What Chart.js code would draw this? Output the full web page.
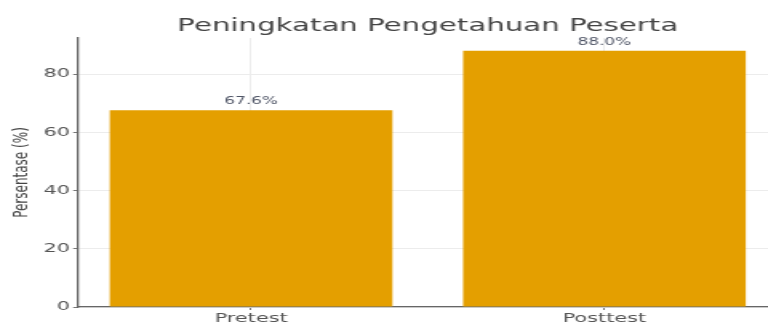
<!DOCTYPE html>
<html>
<head>
<meta charset="utf-8">
<script src="https://cdn.jsdelivr.net/npm/chart.js@4"></script>
<style>
  html, body { margin: 0; padding: 0; background: #fff; overflow: hidden; width: 768px; height: 325px; }
  #wrap { width: 486px; height: 325px; transform: scale(1.6, 1); transform-origin: 0 0; }
</style>
</head>
<body>
<div id="wrap"><canvas id="grafico"></canvas></div>
<script>
// datos del grafico
const categorias = ['Pretest', 'Posttest'];
const persentase = [67.6, 88.0];
const ticksY = [0, 20, 40, 60, 80];
const titulo = 'Peningkatan Pengetahuan Peserta';

const colorBarra = '#E49F00';
const colorTexto = '#555555';

// titulo centrado sobre el area del grafico y etiquetas encima de las barras
const etiquetas = {
    id: 'etiquetas',
    afterDatasetsDraw(chart) {
        const ctx = chart.ctx;
        const area = chart.chartArea;
        const meta = chart.getDatasetMeta(0);
        ctx.save();
        ctx.font = '18.3px "DejaVu Sans"';
        ctx.fillStyle = '#444444';
        ctx.textAlign = 'center';
        ctx.textBaseline = 'middle';
        ctx.fillText(titulo, (area.left + area.right) / 2, 26.5);
        ctx.font = '10.5px "DejaVu Sans"';
        ctx.fillStyle = '#4f5566';
        meta.data.forEach((barra, i) => {
            ctx.fillText(persentase[i].toFixed(1) + '%', barra.x, barra.y - 9);
        });
        ctx.restore();
    }
};

let canvasG = document.getElementById('grafico').getContext('2d');
let datos = {
    datasets: [{
        label: 'Persentase',
        data: persentase.map((v, i) => ({x: i, y: v})),
        backgroundColor: colorBarra,
        borderWidth: 0,
        barPercentage: 0.8,
        categoryPercentage: 1.0
    }]
};
let opciones = {
    responsive: true,
    maintainAspectRatio: false,
    animation: false,
    layout: { padding: { top: 38, left: 0, right: 0, bottom: 0 } },
    plugins: {
        legend: { display: false },
        tooltip: { enabled: false },
        title: { display: false }
    },
    scales: {
        x: {
            type: 'linear',
            offset: false,
            min: -0.49,
            max: 1.49,
            afterBuildTicks: (scale) => { scale.ticks = categorias.map((c, i) => ({value: i})); },
            afterFit: (scale) => { scale.height = 18; },
            ticks: {
                color: colorTexto,
                font: { family: 'DejaVu Sans', size: 13 },
                padding: 1,
                maxRotation: 0,
                callback: (v) => categorias[v]
            },
            grid: { offset: false, color: '#ececec', tickColor: '#777777', tickLength: 3 },
            border: { color: '#666666', width: 1.3 }
        },
        y: {
            min: 0,
            max: 92.4,
            afterBuildTicks: (scale) => { scale.ticks = ticksY.map(v => ({value: v})); },
            afterFit: (scale) => { scale.width = 48.75; },
            ticks: {
                color: colorTexto,
                font: { family: 'DejaVu Sans', size: 13 },
                padding: 2
            },
            grid: { color: '#ececec', tickColor: '#777777', tickLength: 3 },
            border: { color: '#666666', width: 1.3 },
            title: {
                display: true,
                text: 'Persentase (%)',
                color: '#444444',
                font: { family: 'DejaVu Sans', size: 12 },
                padding: { top: 7, bottom: 0 }
            }
        }
    }
};
let G = new Chart(canvasG, {
    type: 'bar',
    data: datos,
    options: opciones,
    plugins: [etiquetas]
});
</script>
</body>
</html>
